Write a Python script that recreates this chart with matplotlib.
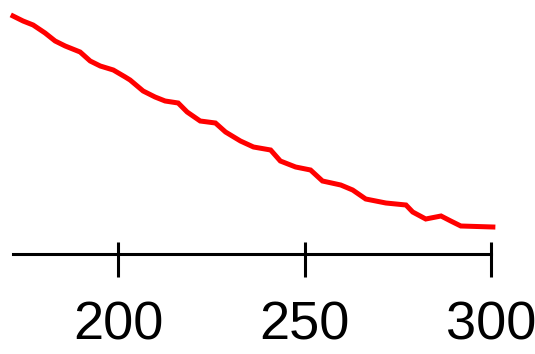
import numpy as np
import matplotlib
matplotlib.use("Agg")
import matplotlib.pyplot as plt

# valeurs (pas d'axe y visible : unités arbitraires)
x_vals = [171.8, 174.5, 177.2, 180.4, 183.1, 185.8, 189.8, 192.5, 195.2, 198.7,
          201.9, 203.2, 206.7, 209.9, 212.6, 216.1, 218.5, 222.0, 226.1, 228.8,
          232.8, 236.3, 240.9, 243.5, 247.6, 251.6, 254.8, 259.7, 262.9, 266.4,
          271.8, 277.2, 279.0, 282.5, 286.6, 289.2, 291.9, 300.5]
y_vals = [238, 233, 229, 221, 213, 208, 202, 193, 188, 184,
          177, 174, 163, 157, 153, 151, 142, 133, 131, 122,
          113, 107, 104, 93, 87, 84, 73, 69, 64, 55,
          51, 49, 42, 35, 38, 33, 28, 27]
x_ticks = [200, 250, 300]

plt.rcParams['font.family'] = ['Liberation Sans', 'DejaVu Sans']

fig = plt.figure(figsize=(5.35, 3.54), dpi=100)
ax = fig.add_axes([13 / 535, 1 - 254 / 354, 478 / 535, 254 / 354])

ax.plot(x_vals, y_vals, color='#ff0000', lw=3.6, clip_on=False,
        solid_joinstyle='miter')

ax.set_xlim(171.8, 300)
ax.set_ylim(0, 254)

for s in ['top', 'right', 'left']:
    ax.spines[s].set_visible(False)
ax.spines['bottom'].set_linewidth(2.2)
ax.set_yticks([])

# traits de graduation asymétriques : majeur vers l'extérieur, mineur vers l'intérieur
ax.set_xticks(x_ticks)
ax.set_xticks(x_ticks, minor=True)
ax.xaxis.remove_overlapping_locs = False
ax.tick_params(axis='x', which='major', direction='out', length=16.5, width=2.2,
               labelsize=39, pad=17)
ax.tick_params(axis='x', which='minor', direction='in', length=8.6, width=2.2)
ax.set_xticklabels([str(t) for t in x_ticks])

fig.savefig("out.png", dpi=100)
